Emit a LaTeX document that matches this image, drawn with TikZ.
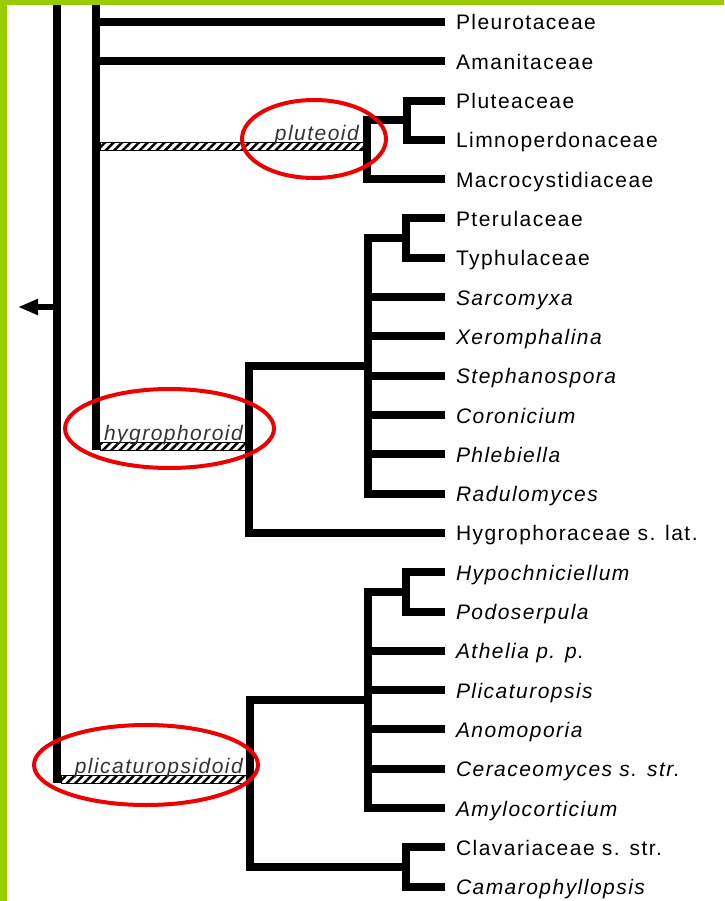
\documentclass[tikz,border=0pt]{standalone}
\usepackage{fontspec}
\setmainfont{Liberation Sans}[LetterSpace=7]
\usetikzlibrary{arrows.meta,patterns.meta}
\definecolor{limegreen}{HTML}{99CC00}
\definecolor{ringred}{HTML}{EE0000}
\tikzset{
  tree/.style={line width=8pt,line join=miter},
  taxon/.style={anchor=west,inner sep=0pt,outer xsep=11pt,text height=16pt,text depth=0pt,font=\fontsize{21}{25}\selectfont},
  fam/.style={},
  gen/.style={font=\fontsize{21}{25}\selectfont\itshape},
  hatchbar/.style={draw=black,line width=1pt,pattern={Lines[angle=45,distance=6pt,line width=2.5pt]}},
  cladename/.style={anchor=base east,inner sep=0pt,text=black!80,font=\fontsize{21}{25}\selectfont\itshape},
  ring/.style={draw=ringred,line width=4pt}
}
\begin{document}
\begin{tikzpicture}[x=1pt,y=-1pt]
  \useasboundingbox (0,0) rectangle (724,901);
  \foreach \nm/\txt/\st [count=\i from 0] in {pleu/Pleurotaceae/fam, aman/Amanitaceae/fam,
      plut/Pluteaceae/fam, limn/Limnoperdonaceae/fam, macr/Macrocystidiaceae/fam,
      pter/Pterulaceae/fam, typh/Typhulaceae/fam, sarc/Sarcomyxa/gen, xero/Xeromphalina/gen,
      step/Stephanospora/gen, coro/Coronicium/gen, phle/Phlebiella/gen, radu/Radulomyces/gen,
      hygr/Hygrophoraceae s. lat./fam, hypo/Hypochniciellum/gen, podo/Podoserpula/gen,
      athe/Athelia p. p./gen, plic/Plicaturopsis/gen, anom/Anomoporia/gen,
      cera/Ceraceomyces s. str./gen, amyl/Amylocorticium/gen, clav/Clavariaceae s. str./fam,
      cama/Camarophyllopsis/gen}
    \node[taxon,\st] (\nm) at (445,{22+39.3*\i}) {\txt};
  \coordinate (Atop) at (57,0);
  \coordinate (A) at (57,783);
  \coordinate (Btop) at (96,0);
  \coordinate (B) at (96,450);
  \coordinate (P) at (367,147);
  \coordinate (P1) at (407,120.25);
  \coordinate (H) at (249,446);
  \coordinate (H1) at (368,365.9);
  \coordinate (H2) at (406,238.15);
  \coordinate (L) at (250,779);
  \coordinate (L1) at (368,699.9);
  \coordinate (L2) at (406,591.85);
  \coordinate (L3) at (406,866.95);
  \coordinate (root) at (18,307);
  \draw[tree] (Atop) -- (A);
  \draw[tree] (Btop) -- (B);
  \draw[tree,line width=6pt,-{Triangle[length=20pt,width=15pt]}] (A |- root) -- (root);
  \draw[tree] (pleu.west) -- (pleu.west -| B);
  \draw[tree] (aman.west) -- (aman.west -| B);
  \draw[tree] (plut.west) -| (P1) |- (limn.west);
  \draw[tree] (P1) -| (P) |- (macr.west);
  \draw[tree] (pter.west) -| (H2) |- (typh.west);
  \draw[tree] (H2) -| (H1) |- (radu.west);
  \foreach \nm in {sarc,xero,step,coro,phle}
    \draw[tree] (\nm.west) -- (\nm.west -| H1);
  \draw[tree] (H1) -| (H) |- (hygr.west);
  \draw[tree] (hypo.west) -| (L2) |- (podo.west);
  \draw[tree] (L2) -| (L1) |- (amyl.west);
  \foreach \nm in {athe,plic,anom,cera}
    \draw[tree] (\nm.west) -- (\nm.west -| L1);
  \draw[tree] (clav.west) -| (L3) |- (cama.west);
  \draw[tree] (L1) -| (L) |- (L3);
  \draw[hatchbar] (100,143) rectangle (363,151);
  \node[cladename] (plutlbl) at (359,141) {pluteoid};
  \draw[hatchbar] (100,442) rectangle (245,450);
  \node[cladename] (hygrlbl) at (243,440) {hygrophoroid};
  \draw[hatchbar] (61,775) rectangle (246,783);
  \node[cladename] (pliclbl) at (243,773) {plicaturopsidoid};
  \draw[ring] (314,139) ellipse [x radius=72pt, y radius=39pt];
  \draw[ring] (169.5,428.5) ellipse [x radius=104.5pt, y radius=39.5pt];
  \draw[ring] (146,765) ellipse [x radius=112pt, y radius=40pt];
  \fill[limegreen] (0,0) rectangle (724,5);
  \fill[limegreen] (0,0) rectangle (7,901);
\end{tikzpicture}
\end{document}
